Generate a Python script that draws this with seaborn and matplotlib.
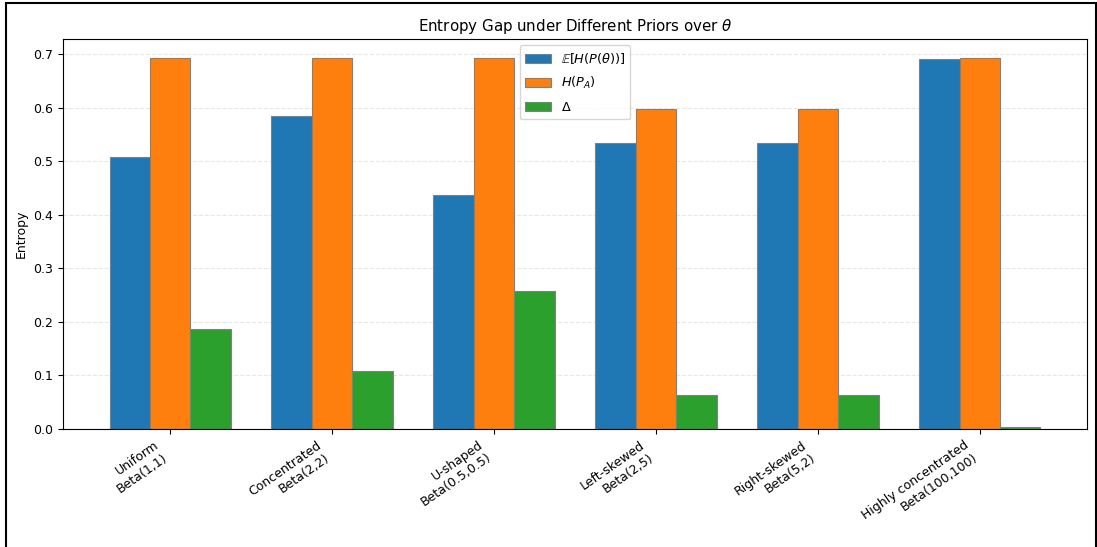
import matplotlib
matplotlib.use("Agg")
import matplotlib.pyplot as plt
from matplotlib.patches import Rectangle
import numpy as np
import pandas as pd
import seaborn as sns

# Priors over theta and the entropy quantities for each
priors = ["Uniform\nBeta(1,1)", "Concentrated\nBeta(2,2)", "U-shaped\nBeta(0.5,0.5)",
          "Left-skewed\nBeta(2,5)", "Right-skewed\nBeta(5,2)",
          "Highly concentrated\nBeta(100,100)"]
expected_entropy = [0.507, 0.584, 0.436, 0.534, 0.534, 0.690]
marginal_entropy = [0.693, 0.693, 0.693, 0.598, 0.598, 0.693]
entropy_gap = [0.186, 0.109, 0.257, 0.064, 0.064, 0.003]

series_names = [r"$\mathbb{E}[H(P(\theta))]$", r"$H(P_A)$", r"$\Delta$"]
colors = ["#1f77b4", "#ff7f0e", "#2ca02c"]

df = pd.DataFrame({
    "prior": priors * 3,
    "quantity": np.repeat(series_names, len(priors)),
    "value": expected_entropy + marginal_entropy + entropy_gap,
})

fig = plt.figure(figsize=(10.97, 5.47), dpi=100)
ax = fig.add_axes([0.0574, 0.2157, 0.9335, 0.713])

sns.barplot(data=df, x="prior", y="value", hue="quantity", hue_order=series_names,
            palette=colors, saturation=1, width=0.75, edgecolor="gray",
            linewidth=0.8, ax=ax, errorbar=None)

# matplotlib-style 5% margins around the grouped bars
n = len(priors)
span = (n - 1) + 0.75
ax.set_xlim(-0.375 - 0.05 * span, n - 1 + 0.375 + 0.05 * span)
ax.set_ylim(0, 0.728)

ax.set_title(r"Entropy Gap under Different Priors over $\theta$", fontsize=10.8)
ax.set_xlabel("")
ax.set_ylabel("Entropy", fontsize=9)
ax.tick_params(axis="both", labelsize=9)
plt.setp(ax.get_xticklabels(), rotation=35, ha="right")
ax.yaxis.grid(True, linestyle="--", alpha=0.3)
ax.set_axisbelow(True)
ax.legend(loc="upper center", fontsize=9.3, labelspacing=0.75)

# frame around the figure
fig.patches.append(Rectangle((6 / 1097, -0.1), 1090 / 1097, 1.1 - 3 / 547,
                             transform=fig.transFigure, fill=False,
                             edgecolor="black", linewidth=1.5))

fig.savefig("out.png", dpi=100)
